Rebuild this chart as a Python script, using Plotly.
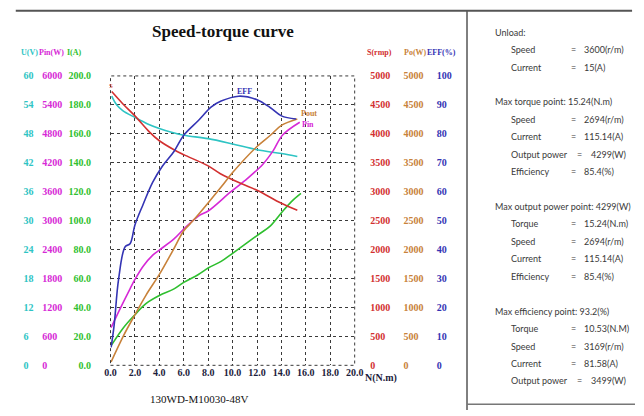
import plotly.graph_objects as go

W, H = 644, 416

# ---------------- data ----------------
torque_ticks = [0, 2, 4, 6, 8, 10, 12, 14, 16, 18, 20]
torque_ticktext = ["0.0", "2.0", "4.0", "6.0", "8.0", "10.0", "12.0", "14.0", "16.0", "18.0", "20.0"]

u_ticks = [0, 6, 12, 18, 24, 30, 36, 42, 48, 54, 60]
pin_ticks = [0, 600, 1200, 1800, 2400, 3000, 3600, 4200, 4800, 5400, 6000]
pin_ticktext = ["0", "600", "1200", "1800", "2400", "3000", "3600", "4200", "4800", "5400", "6000"]
i_ticks = [0, 20, 40, 60, 80, 100, 120, 140, 160, 180, 200]
s_ticks = [0, 500, 1000, 1500, 2000, 2500, 3000, 3500, 4000, 4500, 5000]
po_ticks = [0, 500, 1000, 1500, 2000, 2500, 3000, 3500, 4000, 4500, 5000]
eff_ticks = [0, 10, 20, 30, 40, 50, 60, 70, 80, 90, 100]

# Voltage U (V)
u_torque = [0.1, 0.5, 1.0, 2.0, 3.0, 4.0, 5.0, 6.0, 8.0, 10.0, 12.0, 14.0, 15.3]
u_volt = [55.8, 54.0, 52.8, 51.4, 50.1, 49.1, 48.3, 47.7, 47.0, 45.9, 44.7, 43.9, 43.3]

# Speed S (rpm)
s_torque = [0.1, 1.0, 2.0, 3.2, 4.0, 5.2, 6.0, 8.0, 9.0, 10.7, 12.0, 14.0, 15.3]
s_rpm = [4730, 4520, 4310, 4030, 3880, 3725, 3640, 3445, 3310, 3140, 3025, 2800, 2680]

# Efficiency EFF (%)
eff_torque = [0.05, 0.3, 0.66, 1.2, 1.6, 2.0, 2.66, 3.46, 4.26, 5.2, 6.0, 7.2, 8.26, 9.06,
              10.5, 12.0, 13.1, 14.0, 15.2]
eff_pct = [6.2, 14.0, 29.7, 41.0, 42.0, 48.5, 55.5, 63.3, 68.9, 73.9, 79.5, 84.6, 89.3, 91.3,
           93.0, 91.8, 89.0, 86.2, 85.1]

# Output power Po (W)
po_torque = [0.05, 1.06, 2.0, 2.9, 4.0, 5.06, 6.0, 6.5, 7.2, 9.06, 10.0, 12.0, 13.1, 14.0, 15.3]
po_watt = [60, 510, 875, 1210, 1570, 1965, 2325, 2440, 2605, 3080, 3330, 3780, 3975, 4145, 4255]

# Input power Pin (W)
pin_torque = [0.05, 0.8, 1.6, 2.0, 2.66, 3.46, 4.0, 5.2, 6.0, 7.2, 8.0, 9.86, 11.2, 12.5, 13.3,
              14.1, 15.5]
pin_watt = [780, 1180, 1585, 1780, 2050, 2285, 2390, 2620, 2825, 3095, 3200, 3600, 3870, 4175,
            4440, 4775, 5040]

# Current I (A)
i_torque = [0.05, 1.06, 2.0, 2.9, 4.0, 5.2, 6.0, 7.2, 8.0, 9.06, 10.0, 12.0, 13.1, 14.0, 14.8, 15.6]
i_amp = [13.6, 26.0, 35.0, 42.7, 48.3, 52.8, 57.3, 62.8, 67.3, 71.8, 77.4, 89.7, 96.4, 105.4,
         113.0, 118.8]

panel_lines = [
    ("Unload:", None, None, 0),
    ("Speed", "=", "3600(r/m)", 1),
    ("Current", "=", "15(A)", 1),
    ("", None, None, 0),
    ("Max torque point: 15.24(N.m)", None, None, 0),
    ("Speed", "=", "2694(r/m)", 1),
    ("Current", "=", "115.14(A)", 1),
    ("Output power", "=", "4299(W)", 2),
    ("Efficiency", "=", "85.4(%)", 1),
    ("", None, None, 0),
    ("Max output power point: 4299(W)", None, None, 0),
    ("Torque", "=", "15.24(N.m)", 1),
    ("Speed", "=", "2694(r/m)", 1),
    ("Current", "=", "115.14(A)", 1),
    ("Efficiency", "=", "85.4(%)", 1),
    ("", None, None, 0),
    ("Max efficiency point: 93.2(%)", None, None, 0),
    ("Torque", "=", "10.53(N.M)", 1),
    ("Speed", "=", "3169(r/m)", 1),
    ("Current", "=", "81.58(A)", 1),
    ("Output power", "=", "3499(W)", 2),
]

# ---------------- colours / styling ----------------
C_U = "#2ec4c4"
C_PIN = "#d629d6"
C_I = "#2fbf2f"
C_S = "#d23030"
C_PO = "#c8823a"
C_EFF = "#3434b4"
TICKFONT = "Liberation Serif"

def px_x(p):
    return p / W

def px_y(p):
    return 1 - p / H

x_dom = [px_x(107), px_x(357)]
y_dom = [px_y(370), px_y(72)]

fig = go.Figure()

fig.add_trace(go.Scatter(x=u_torque, y=u_volt, yaxis="y", mode="lines",
                         line=dict(color=C_U, width=1.6, shape="spline"), name="U"))
fig.add_trace(go.Scatter(x=pin_torque, y=pin_watt, yaxis="y2", mode="lines",
                         line=dict(color=C_PIN, width=1.6, shape="spline"), name="Pin"))
fig.add_trace(go.Scatter(x=i_torque, y=i_amp, yaxis="y3", mode="lines",
                         line=dict(color=C_I, width=1.6, shape="spline"), name="I"))
fig.add_trace(go.Scatter(x=s_torque, y=s_rpm, yaxis="y4", mode="lines",
                         line=dict(color=C_S, width=1.6, shape="spline"), name="S"))
fig.add_trace(go.Scatter(x=po_torque, y=po_watt, yaxis="y5", mode="lines",
                         line=dict(color=C_PO, width=1.6, shape="spline"), name="Po"))
fig.add_trace(go.Scatter(x=eff_torque, y=eff_pct, yaxis="y6", mode="lines",
                         line=dict(color=C_EFF, width=1.6, shape="spline"), name="EFF"))

def yax(rng, ticks, color, pos, side, text=None, grid=False, fmt=None, overlay=True):
    d = dict(range=rng, tickvals=ticks, domain=y_dom, anchor="free", position=pos, side=side,
             showline=False, zeroline=False, ticks="", fixedrange=True,
             tickfont=dict(family=TICKFONT, size=10, color=color, weight="bold"),
             showgrid=grid)
    if text is not None:
        d["ticktext"] = text
    if fmt is not None:
        d["tickformat"] = fmt
    if grid:
        d.update(gridcolor="#3a3a3a", griddash="dot", gridwidth=1)
    if overlay:
        d["overlaying"] = "y"
    return d

layout = dict(
    width=W, height=H,
    margin=dict(l=0, r=0, t=0, b=0),
    paper_bgcolor="white", plot_bgcolor="white",
    showlegend=False,
    xaxis=dict(domain=x_dom, range=[0, 20], tickvals=torque_ticks, ticktext=torque_ticktext,
               showgrid=True, gridcolor="#3a3a3a", griddash="dot", gridwidth=1,
               zeroline=False, showline=False, ticks="", anchor="y6", fixedrange=True,
               tickfont=dict(family=TICKFONT, size=10, color="#1c1c3c", weight="bold")),
    yaxis=yax([0, 60], u_ticks, C_U, px_x(17), "right", overlay=False),
    yaxis2=yax([0, 6000], pin_ticks, C_PIN, px_x(36), "right", text=pin_ticktext),
    yaxis3=yax([0, 200], i_ticks, C_I, px_x(87), "left", fmt=".1f"),
    yaxis4=yax([0, 5000], s_ticks, C_S, px_x(372), "right"),
    yaxis5=yax([0, 5000], po_ticks, C_PO, px_x(406), "right"),
    yaxis6=yax([0, 100], eff_ticks, C_EFF, px_x(440), "right", grid=True),
)
fig.update_layout(**layout)

ann = []
# Title
ann.append(dict(text="<b>Speed-torque curve</b>", x=px_x(222), y=px_y(26), xref="paper", yref="paper",
                showarrow=False, font=dict(family="Liberation Serif", size=17, color="#111"),
                xanchor="center", yanchor="middle"))
# headers
for txt, xx, col in [("U(V)", 13, C_U), ("Pin(W)", 32, C_PIN), ("I(A)", 60, C_I),
                     ("S(rmp)", 368, C_S), ("Po(W)", 405, C_PO), ("EFF(%)", 429, C_EFF)]:
    ann.append(dict(text=txt, x=px_x(xx), y=px_y(48), xref="paper", yref="paper", showarrow=False,
                    xanchor="left", yanchor="middle",
                    font=dict(family=TICKFONT, size=8, color=col, weight="bold")))
# x-axis unit
ann.append(dict(text="N(N.m)", x=px_x(366), y=px_y(383), xref="paper", yref="paper", showarrow=False,
                xanchor="left", yanchor="middle",
                font=dict(family=TICKFONT, size=10, color="#1c1c3c", weight="bold")))
# subtitle
ann.append(dict(text="130WD-M10030-48V", x=px_x(198), y=px_y(405), xref="paper", yref="paper",
                showarrow=False, xanchor="center", yanchor="middle",
                font=dict(family="Liberation Serif", size=11, color="#111")))
# curve labels
ann.append(dict(text="<b>EFF</b>", x=11.0, y=94.6, xref="x", yref="y6", showarrow=False,
                font=dict(family=TICKFONT, size=8, color=C_EFF)))
ann.append(dict(text="<b>Pout</b>", x=15.4, y=87.0, xref="x", yref="y6", showarrow=False,
                xanchor="left", font=dict(family=TICKFONT, size=8, color=C_PO)))
ann.append(dict(text="<b>Pin</b>", x=15.5, y=83.2, xref="x", yref="y6", showarrow=False,
                xanchor="left", font=dict(family=TICKFONT, size=8, color=C_PIN)))
ann.append(dict(text="S", x=0.05, y=96.5, xref="x", yref="y6", showarrow=False,
                font=dict(family=TICKFONT, size=7, color=C_S)))

# right info panel
PF = dict(family="Lato", size=9, color="#3a3a3a")
y0, dy = 27, 17.95
for k, (label, eq, val, indent) in enumerate(panel_lines):
    yy = px_y(y0 + k * dy)
    if not label:
        continue
    if indent == 0:
        ann.append(dict(text=label, x=px_x(499), y=yy, xref="paper", yref="paper", showarrow=False,
                        xanchor="left", yanchor="middle", font=PF))
    else:
        eq_x, val_x = (576, 590) if indent == 1 else (583, 597)
        ann.append(dict(text=label, x=px_x(515), y=yy, xref="paper", yref="paper", showarrow=False,
                        xanchor="left", yanchor="middle", font=PF))
        ann.append(dict(text=eq, x=px_x(eq_x), y=yy, xref="paper", yref="paper", showarrow=False,
                        xanchor="left", yanchor="middle", font=PF))
        ann.append(dict(text=val, x=px_x(val_x), y=yy, xref="paper", yref="paper", showarrow=False,
                        xanchor="left", yanchor="middle", font=PF))
fig.update_layout(annotations=ann)

shapes = [
    # dotted plot border
    dict(type="rect", xref="x domain", yref="y6 domain", x0=0, x1=1, y0=0, y1=1,
         line=dict(color="#3a3a3a", width=1, dash="dot")),
    # frame lines
    dict(type="line", xref="paper", yref="paper", x0=px_x(10), x1=px_x(641), y0=px_y(5), y1=px_y(5),
         line=dict(color="#555", width=2)),
    dict(type="line", xref="paper", yref="paper", x0=px_x(472), x1=px_x(472), y0=px_y(5), y1=px_y(416),
         line=dict(color="#555", width=1.5)),
    dict(type="line", xref="paper", yref="paper", x0=px_x(472), x1=px_x(644), y0=px_y(410), y1=px_y(410),
         line=dict(color="#777", width=1.5)),
]
fig.update_layout(shapes=shapes)

fig.write_html("out.html", config={"displayModeBar": False, "staticPlot": True},
               post_script="document.body.style.margin='0';document.body.style.overflow='hidden';")
